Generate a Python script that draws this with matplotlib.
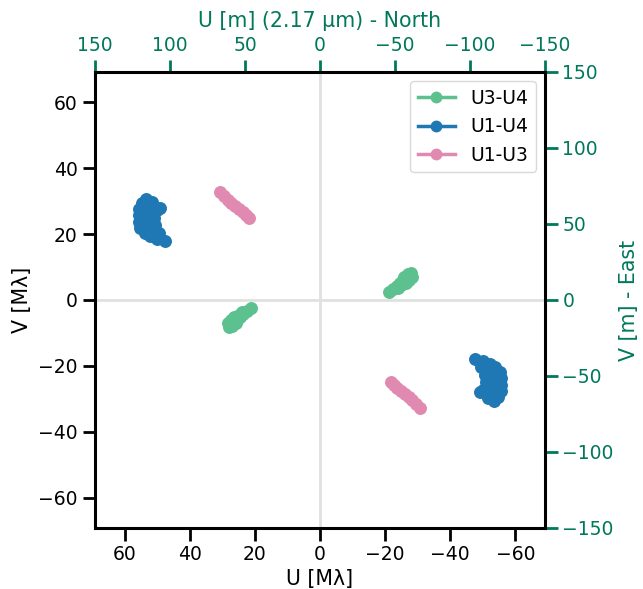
import matplotlib
matplotlib.use("Agg")
import matplotlib.pyplot as plt
from matplotlib.lines import Line2D
import numpy as np

WAVELENGTH_UM = 2.17

# one half of each baseline's uv track in M-lambda; the other half is (-u, -v)
u34 = [-21.2, -22.4, -23.6, -24.6, -25.5, -25.8, -27.0, -27.9, -26.4, -27.3, -28.3, -24.0, -25.0]
v34 = [2.4, 3.3, 4.2, 5.2, 6.1, 7.0, 7.9, 8.2, 5.2, 6.1, 7.0, 3.6, 4.5]

u14 = [-47.6, -50.1, -52.2, -53.7, -55.3, -55.6, -55.6, -55.6, -54.7, -53.4,
       -49.4, -50.7, -51.0, -50.1, -49.1, -52.2, -53.1, -53.4, -52.2, -51.6, -51.6,
       -54.2, -54.5, -52.8, -51.3]
v14 = [-17.9, -18.5, -19.4, -20.3, -21.8, -23.6, -25.8, -27.6, -29.4, -30.6,
       -20.3, -22.7, -24.8, -27.3, -27.9, -21.8, -24.2, -26.7, -28.5, -25.8, -29.7,
       -22.5, -28.0, -23.0, -19.8]

u13 = [30.7, 29.5, 28.3, 27.3, 26.1, 24.9, 23.6, 22.7, 21.8]
v13 = [32.7, 31.5, 30.3, 29.4, 28.5, 27.6, 26.7, 25.8, 24.8]

baselines = ["U3-U4", "U1-U4", "U1-U3"]
colors = ["#5cc18f", "#1f77b4", "#e08ab2"]
tracks = [(u34, v34), (u14, v14), (u13, v13)]

sec_color = "#00785a"
fs = 13.5
fs_label = 14.8

fig = plt.figure(figsize=(6.43, 5.89), dpi=100)
ax = fig.add_axes([0.1477, 0.1036, 0.7, 0.7742])

lim = 150 / WAVELENGTH_UM
ax.axhline(0, color="#e0e0e0", lw=2, zorder=0)
ax.axvline(0, color="#e0e0e0", lw=2, zorder=0)

handles = []
for name, col, (u, v) in zip(baselines, colors, tracks):
    u = np.asarray(u)
    v = np.asarray(v)
    ax.plot(u, v, "o", color=col, ms=8.3, ls="none")
    ax.plot(-u, -v, "o", color=col, ms=8.3, ls="none")
    handles.append(Line2D([], [], color=col, marker="o", ms=7.5, lw=2.5, label=name))

ax.set_xlim(lim, -lim)
ax.set_ylim(-lim, lim)
ax.set_xticks(np.arange(-60, 61, 20))
ax.set_yticks(np.arange(-60, 61, 20))
ax.set_xlabel("U [Mλ]", fontsize=fs_label, labelpad=3)
ax.set_ylabel("V [Mλ]", fontsize=fs_label, labelpad=4)
ax.tick_params(labelsize=fs, length=9, width=2)
for s in ax.spines.values():
    s.set_linewidth(2.2)

fwd = lambda x: x * WAVELENGTH_UM
inv = lambda x: x / WAVELENGTH_UM
secx = ax.secondary_xaxis("top", functions=(fwd, inv))
secy = ax.secondary_yaxis("right", functions=(fwd, inv))
for sec in (secx, secy):
    for s in sec.spines.values():
        s.set_visible(False)
    sec.tick_params(labelsize=fs, length=9, width=2, colors=sec_color)
secx.set_xticks(np.arange(-150, 151, 50))
secy.set_yticks(np.arange(-150, 151, 50))
secx.set_xlabel("U [m] (2.17 µm) - North", fontsize=fs_label, color=sec_color, labelpad=6)
secy.set_ylabel("V [m] - East", fontsize=fs_label, color=sec_color, labelpad=4)

leg = ax.legend(handles=handles, loc="upper right", fontsize=fs, frameon=True,
                handlelength=2.0, borderaxespad=0.5)
leg.get_frame().set_edgecolor("#d0d0d0")

fig.savefig("out.png", dpi=100)
